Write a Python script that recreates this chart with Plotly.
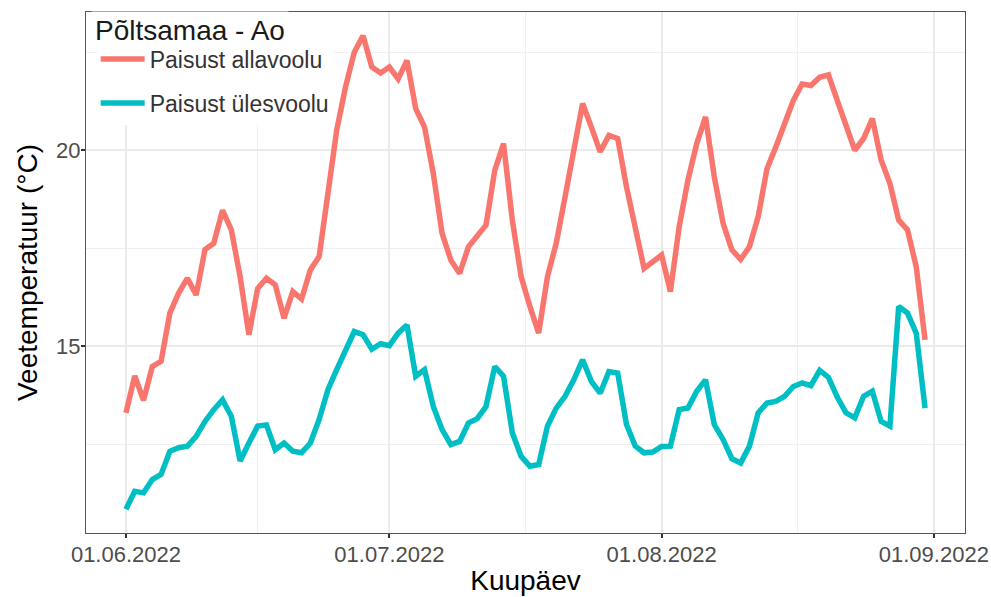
import pandas as pd
import plotly.graph_objects as go

start_date = "2022-06-01"
n_days = 92

allavoolu = [13.31, 14.25, 13.63, 14.49, 14.62, 15.85, 16.36, 16.74, 16.31, 17.47,
             17.63, 18.47, 17.97, 16.78, 15.30, 16.48, 16.74, 16.57, 15.72, 16.40,
             16.21, 16.95, 17.29, 18.90, 20.51, 21.61, 22.50, 22.92, 22.12, 21.97,
             22.12, 21.82, 22.29, 21.06, 20.59, 19.41, 17.88, 17.20, 16.86, 17.54,
             17.82, 18.09, 19.49, 20.17, 18.22, 16.78, 16.02, 15.34, 16.78, 17.63,
             18.81, 20.00, 21.19, 20.59, 19.96, 20.38, 20.30, 19.07, 18.05, 16.99,
             17.16, 17.33, 16.40, 18.05, 19.24, 20.17, 20.85, 19.32, 18.14, 17.46,
             17.22, 17.54, 18.31, 19.53, 20.08, 20.68, 21.27, 21.69, 21.65, 21.86,
             21.92, 21.27, 20.68, 20.00, 20.30, 20.81, 19.75, 19.15, 18.22, 17.97,
             17.03, 15.17]

ulesvoolu = [10.85, 11.31, 11.27, 11.61, 11.74, 12.33, 12.42, 12.46, 12.71, 13.09,
             13.39, 13.64, 13.22, 12.08, 12.54, 12.97, 13.00, 12.37, 12.54, 12.33,
             12.29, 12.54, 13.14, 13.90, 14.41, 14.92, 15.38, 15.30, 14.93, 15.07,
             15.02, 15.34, 15.55, 14.24, 14.41, 13.47, 12.88, 12.50, 12.58, 13.05,
             13.16, 13.47, 14.49, 14.24, 12.80, 12.20, 11.95, 11.99, 12.97, 13.43,
             13.73, 14.15, 14.66, 14.11, 13.81, 14.36, 14.32, 13.01, 12.46, 12.29,
             12.31, 12.45, 12.46, 13.39, 13.43, 13.86, 14.15, 13.01, 12.63, 12.14,
             12.03, 12.46, 13.31, 13.56, 13.60, 13.73, 13.98, 14.07, 14.00, 14.39,
             14.21, 13.71, 13.31, 13.18, 13.73, 13.86, 13.09, 12.97, 16.02, 15.85,
             15.34, 13.43]

series_names = ["Paisust allavoolu", "Paisust ülesvoolu"]
series_colors = ["#F8766D", "#00BFC4"]
legend_title = "Põltsamaa - Ao"
x_title = "Kuupäev"
y_title = "Veetemperatuur (°C)"
x_tick_vals = ["2022-06-01", "2022-07-01", "2022-08-01", "2022-09-01"]
x_minor_vals = ["2022-06-16 00:00", "2022-07-16 12:00", "2022-08-16 12:00"]
y_tick_vals = [15, 20]
y_minor_vals = [12.5, 17.5, 22.5]

dates = pd.date_range(start_date, periods=n_days, freq="D")

# ggplot-like 5% expansion
span = dates[-1] - dates[0]
x_range = [dates[0] - span * 0.05, dates[-1] + span * 0.05]
all_vals = allavoolu + ulesvoolu
ymin, ymax = min(all_vals), max(all_vals)
yspan = ymax - ymin
y_range = [ymin - 0.05 * yspan, ymax + 0.05 * yspan]

font_family = "Liberation Sans, Arial, sans-serif"

fig = go.Figure()
for i, (name, vals) in enumerate(zip(series_names, [allavoolu, ulesvoolu])):
    fig.add_trace(go.Scatter(
        x=dates, y=vals, mode="lines", name=name,
        legendgroup=f"g{i}",
        line=dict(color=series_colors[i], width=5.5),
    ))

# legend title as a text label in the panel corner
fig.add_annotation(
    text=legend_title, xref="paper", yref="paper",
    x=0.006, y=0.9645, xanchor="left", yanchor="middle",
    showarrow=False, bgcolor="white", borderpad=3,
    font=dict(size=28, color="#1a1a1a", family=font_family),
)

fig.update_layout(
    width=991, height=597,
    margin=dict(l=86, r=26, t=12, b=64),
    paper_bgcolor="white",
    plot_bgcolor="white",
    font=dict(family=font_family, color="black"),
    showlegend=True,
    legend=dict(
        x=0.011, y=0.951, xanchor="left", yanchor="top",
        bgcolor="white",
        font=dict(size=23, color="#333333"),
        traceorder="grouped",
        tracegroupgap=11,
        itemwidth=44,
    ),
    xaxis=dict(
        type="date",
        range=x_range,
        automargin=False,
        tickmode="array",
        tickvals=x_tick_vals,
        tickformat="%d.%m.%Y",
        tickfont=dict(size=22, color="#4D4D4D"),
        ticks="outside", ticklen=4, tickwidth=1.5, tickcolor="#333333",
        ticklabelstandoff=-3,
        showgrid=True, gridcolor="#EBEBEB", gridwidth=2,
        minor=dict(tickmode="array", tickvals=x_minor_vals, showgrid=True,
                   gridcolor="#EFEFEF", gridwidth=1, ticks=""),
        showline=True, linecolor="#555555", linewidth=1.2, mirror=True,
        zeroline=False,
        title=dict(text=x_title, font=dict(size=28, color="black"), standoff=4),
    ),
    yaxis=dict(
        range=y_range,
        automargin=False,
        tickmode="array",
        tickvals=y_tick_vals,
        tickfont=dict(size=22, color="#4D4D4D"),
        ticks="outside", ticklen=4, tickwidth=1.5, tickcolor="#333333",
        ticklabelstandoff=-4,
        showgrid=True, gridcolor="#EBEBEB", gridwidth=2,
        minor=dict(tickmode="array", tickvals=y_minor_vals, showgrid=True,
                   gridcolor="#EFEFEF", gridwidth=1, ticks=""),
        showline=True, linecolor="#555555", linewidth=1.2, mirror=True,
        zeroline=False,
        title=dict(text=y_title, font=dict(size=28, color="black"), standoff=10),
    ),
)

fig.write_html("out.html", config={"displayModeBar": False},
               post_script="document.body.style.margin='0';")
